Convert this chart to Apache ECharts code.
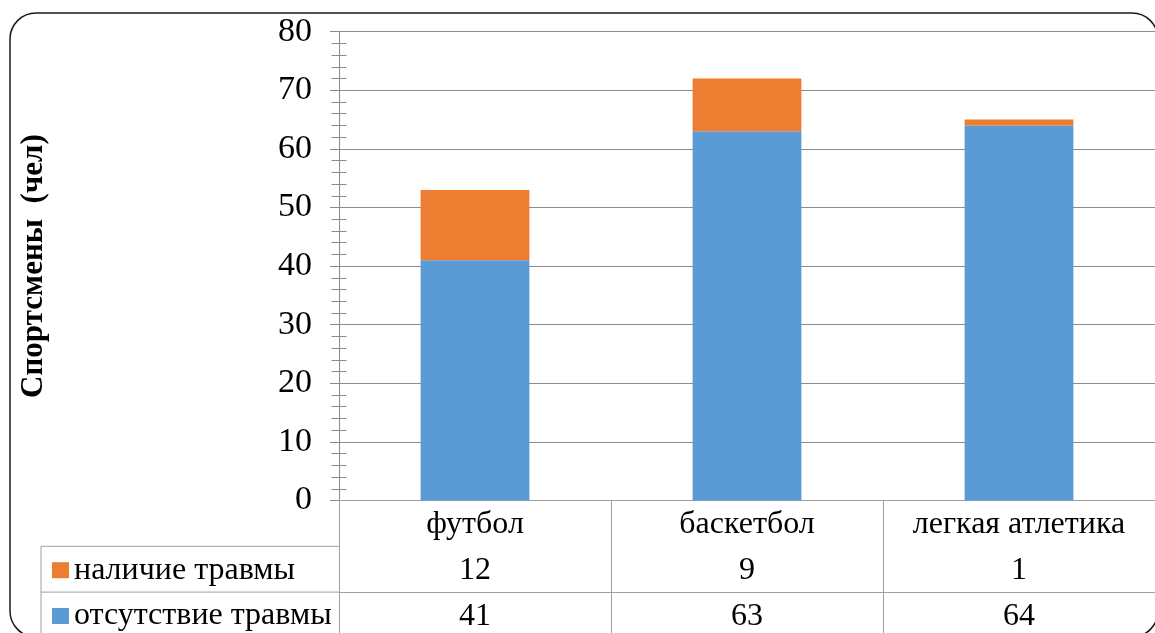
<!DOCTYPE html>
<html>
<head>
<meta charset="utf-8">
<script src="https://cdn.jsdelivr.net/npm/echarts@6/dist/echarts.min.js"></script>
<style>
  html, body { margin: 0; padding: 0; background: #fff; }
  #chart { width: 1155px; height: 633px; }
</style>
</head>
<body>
<div id="chart"></div>
<script>
// Sports and athlete counts
const sports = ['футбол', 'баскетбол', 'легкая атлетика'];
const injured = [12, 9, 1];      // наличие травмы
const healthy = [41, 63, 64];    // отсутствие травмы
const seriesNames = ['наличие травмы', 'отсутствие травмы'];
const yMin = 0, yMax = 80, yStep = 10;
const yTitle = 'Спортсмены  (чел)';

const SERIF = '"Liberation Serif", "Times New Roman", serif';
const GRID_COLOR = '#8c8c8c';
const TABLE_COLOR = '#a0a0a0';
const ORANGE = '#ED7D31';
const BLUE = '#5B9BD5';

// Layout of the plot and the data table rows beneath it
const plotLeft = 339, plotTop = 31.7, plotWidth = 820.5, plotHeight = 468.8;
const rowH = 45.8;
const plotBottom = plotTop + plotHeight;

const tableText = { fontFamily: SERIF, fontSize: 32, lineHeight: 32, color: '#000' };

function tableAxis(offset, formatter, withTicks) {
  return {
    type: 'category',
    data: sports,
    position: 'bottom',
    offset: offset,
    axisLine: { show: true, lineStyle: { color: TABLE_COLOR, width: 1 } },
    axisTick: {
      show: withTicks, alignWithLabel: false, interval: 0, length: 150,
      lineStyle: { color: TABLE_COLOR, width: 1 }
    },
    splitLine: { show: false },
    axisLabel: Object.assign({ interval: 0, margin: 8.5, formatter: formatter }, tableText)
  };
}

const chart = echarts.init(document.getElementById('chart'), null, { renderer: 'canvas' });

chart.setOption({
  animation: false,
  backgroundColor: '#fff',
  grid: { left: plotLeft, top: plotTop, width: plotWidth, height: plotHeight, containLabel: false },
  legend: {
    data: seriesNames,
    orient: 'vertical',
    left: 52, top: plotBottom + rowH + (rowH - 32) / 2 + 1,
    padding: 0,
    itemWidth: 17, itemHeight: 16,
    itemGap: rowH - 32,
    icon: 'rect',
    selectedMode: false,
    textStyle: tableText
  },
  xAxis: [
    tableAxis(0, v => v, true),
    tableAxis(rowH, (v, i) => String(injured[i]), false),
    tableAxis(rowH * 2, (v, i) => String(healthy[i]), false)
  ],
  yAxis: [
    {
      type: 'value', min: yMin, max: yMax, interval: yStep, position: 'left',
      name: yTitle, nameLocation: 'middle', nameGap: 290, nameRotate: 90,
      nameTextStyle: { fontFamily: SERIF, fontWeight: 'bold', fontSize: 31, color: '#000' },
      axisLine: { show: true, lineStyle: { color: GRID_COLOR, width: 1 } },
      axisTick: { show: true, length: 9, lineStyle: { color: GRID_COLOR, width: 1 } },
      minorTick: { show: true, splitNumber: 5, length: 7.5, lineStyle: { color: GRID_COLOR, width: 1 } },
      splitLine: { show: true, lineStyle: { color: GRID_COLOR, width: 1 } },
      axisLabel: { fontFamily: SERIF, fontSize: 34, color: '#000', margin: 27 }
    },
    {
      // mirror axis: minor ticks on the inner side so they cross the axis line
      type: 'value', min: yMin, max: yMax, interval: yStep, position: 'left',
      axisLine: { show: false },
      axisTick: { show: false, inside: true },
      minorTick: { show: true, splitNumber: 5, length: 7.5, lineStyle: { color: GRID_COLOR, width: 1 } },
      splitLine: { show: false },
      axisLabel: { show: false }
    }
  ],
  series: [
    {
      name: seriesNames[1], type: 'bar', stack: 'total', data: healthy,
      barWidth: '40%', itemStyle: { color: BLUE }
    },
    {
      name: seriesNames[0], type: 'bar', stack: 'total', data: injured,
      barWidth: '40%', itemStyle: { color: ORANGE }
    }
  ],
  graphic: [
    // outer rounded frame
    {
      type: 'rect', silent: true,
      shape: { x: 10, y: 13, width: 1148, height: 624, r: 26 },
      style: { fill: 'none', stroke: '#1a1a1a', lineWidth: 1.5 }
    },
    // legend column borders of the data table
    {
      type: 'line', silent: true,
      shape: { x1: 41, y1: plotBottom + rowH, x2: plotLeft, y2: plotBottom + rowH },
      style: { stroke: TABLE_COLOR, lineWidth: 1 }
    },
    {
      type: 'line', silent: true,
      shape: { x1: 41, y1: plotBottom + rowH * 2, x2: plotLeft, y2: plotBottom + rowH * 2 },
      style: { stroke: TABLE_COLOR, lineWidth: 1 }
    },
    {
      type: 'line', silent: true,
      shape: { x1: 41, y1: plotBottom + rowH, x2: 41, y2: 640 },
      style: { stroke: TABLE_COLOR, lineWidth: 1 }
    }
  ]
});
</script>
</body>
</html>
